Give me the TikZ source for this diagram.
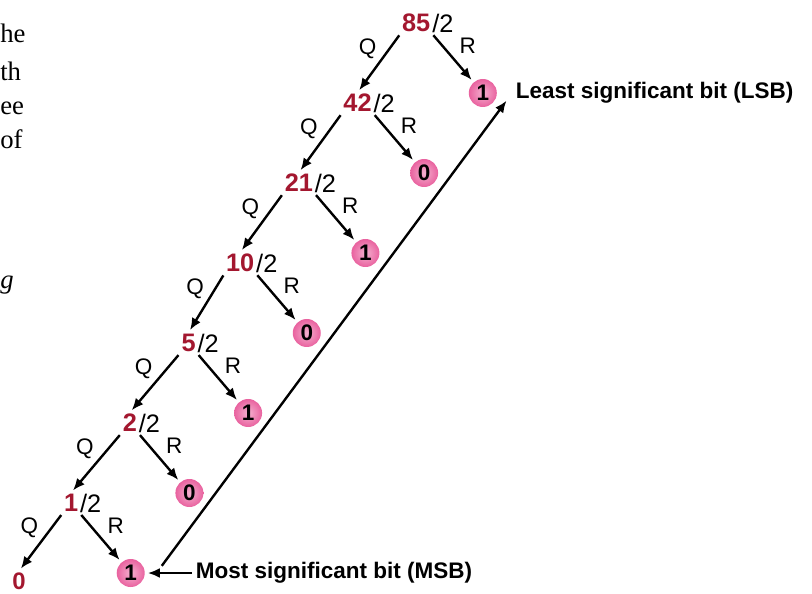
\documentclass[tikz,border=0pt]{standalone}
\usepackage{fontspec}
\setmainfont{Liberation Serif}
\setsansfont{Liberation Sans}
\usetikzlibrary{
  arrows.meta,
  positioning,
  calc
}
\definecolor{binRed}{HTML}{A3172F}
\definecolor{binPink}{HTML}{E9629F}
\tikzset{
  divnode/.style={
    font=\sffamily\bfseries\fontsize{18}{18}\selectfont, text=binRed, inner sep=1pt,
    label={[dentext]right:/2}
  },
  dentext/.style={font=\sffamily\fontsize{18}{18}\selectfont, text=black, inner sep=0pt},
  lastbit/.style={font=\sffamily\bfseries\fontsize{17}{17}\selectfont, text=binRed, inner sep=1pt},
  bitnode/.style={
    circle, minimum size=7mm, inner sep=0pt,
    shading=radial, inner color=binPink!50, outer color=binPink,
    font=\sffamily\bfseries\fontsize{16}{16}\selectfont
  },
  divarrow/.style={-{Latex[length=3mm, width=2.5mm]}, line width=1.7pt, shorten <=1.5pt, shorten >=2pt},
  longarrow/.style={-{Latex[length=3mm, width=2.5mm]}, line width=1.7pt},
  qlabel/.style={font=\sffamily\fontsize{16}{16}\selectfont, inner sep=1pt, midway, above left=1pt and 0pt},
  rlabel/.style={font=\sffamily\fontsize{16}{16}\selectfont, inner sep=1pt, midway, above right=1pt and 3pt},
  bitlabel/.style={font=\sffamily\bfseries\fontsize{16}{16}\selectfont, inner sep=1pt},
  pagetext/.style={font=\fontsize{19}{19}\selectfont, inner sep=0pt, anchor=base west}
}
\begin{document}
\begin{tikzpicture}
  \useasboundingbox (0,0) rectangle (20.3,-14.85);
  % cut-off words of the page
  \node[pagetext] (w1) at (0,-1.075) {he};
  \node[pagetext] (w2) at (0,-2.025) {th};
  \node[pagetext] (w3) at (0,-2.875) {ee};
  \node[pagetext] (w4) at (0,-3.725) {of};
  \node[pagetext] (w5) at (0,-7.225) {\itshape g};
  % quotients
  \node[divnode, anchor=east] (d85) at (10.8,-0.575) {85};
  \node[divnode, anchor=east] (d42) at ($(d85.east)+(-1.467,-2)$) {42};
  \node[divnode, anchor=east] (d21) at ($(d42.east)+(-1.467,-2)$) {21};
  \node[divnode, anchor=east] (d10) at ($(d21.east)+(-1.467,-2)$) {10};
  \node[divnode, anchor=east] (d5) at ($(d10.east)+(-1.467,-2)$) {5};
  \node[divnode, anchor=east] (d2) at ($(d5.east)+(-1.467,-2)$) {2};
  \node[divnode, anchor=east] (d1) at ($(d2.east)+(-1.467,-2)$) {1};
  \node[lastbit] (d0) at ($(d1.east)+(-1.52,-1.95)$) {0};
  % remainders
  \node[bitnode] (r85) at ($(d85.east)+(1.27,-1.75)$) {1};
  \node[bitnode] (r42) at ($(d42.east)+(1.27,-1.75)$) {0};
  \node[bitnode] (r21) at ($(d21.east)+(1.27,-1.75)$) {1};
  \node[bitnode] (r10) at ($(d10.east)+(1.27,-1.75)$) {0};
  \node[bitnode] (r5) at ($(d5.east)+(1.27,-1.75)$) {1};
  \node[bitnode] (r2) at ($(d2.east)+(1.27,-1.75)$) {0};
  \node[bitnode] (r1) at ($(d1.east)+(1.27,-1.75)$) {1};
  \node[bitlabel, right=0.43cm of r85] (lsb) {Least significant bit (LSB)};
  \node[bitlabel, right=1.23cm of r1] (msb) {Most significant bit (MSB)};
  \foreach \a/\b in {d85/d42,d42/d21,d21/d10,d10/d5,d5/d2,d2/d1,d1/d0}{
    \draw[divarrow] (\a.south west) -- (\b.north) node[qlabel] {Q};
  }
  \foreach \a/\b in {d85/r85,d42/r42,d21/r21,d10/r10,d5/r5,d2/r2,d1/r1}{
    \draw[divarrow] (\a.south east) -- (\b) node[rlabel] {R};
  }
  \draw[divarrow] (msb.west) -- (r1.east);
  \draw[longarrow] ([shift={(0.42,0.18)}]r1.east) -- ([shift={(0.34,0.06)}]r85.south east);
\end{tikzpicture}
\end{document}
